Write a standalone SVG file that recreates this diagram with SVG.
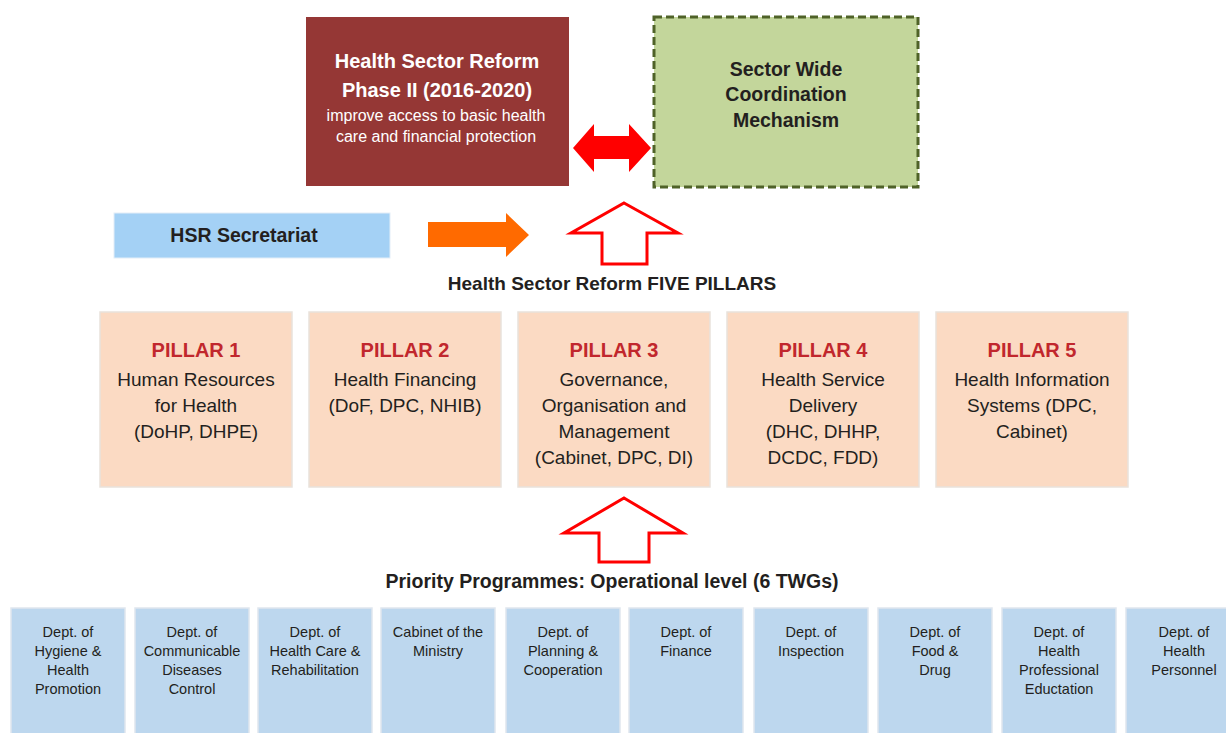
<svg xmlns="http://www.w3.org/2000/svg" width="1226" height="733" viewBox="0 0 1226 733">
<defs>
<style>
text{font-family:"Liberation Sans","Noto Sans",Arial,sans-serif;text-anchor:middle}
.b{font-weight:bold}
.wt{fill:#ffffff}
.dk{fill:#231f20}
.pt{fill:#c1272d;font-weight:bold;font-size:20px}
.pb{fill:#231f20;font-size:19px}
.pill{fill:#fbdac3;stroke:#e9e2dc;stroke-width:1.5}
.dept{fill:#bdd7ee;stroke:#dfe6ee;stroke-width:1.5}
.dt{fill:#231f20;font-size:14.5px}
.up{fill:#ffffff;stroke:#ff0000;stroke-width:3;stroke-linejoin:miter}
</style>
</defs>
<rect width="1226" height="733" fill="#ffffff"/>

<g id="hsr-phase2">
<rect x="306" y="17" width="263" height="169" fill="#953735"/>
<text class="b wt" x="437" y="68" font-size="20">Health Sector Reform</text>
<text class="b wt" x="437" y="97" font-size="20">Phase II (2016-2020)</text>
<text class="wt" x="436" y="121" font-size="16">improve access to basic health</text>
<text class="wt" x="436" y="142" font-size="16">care and financial protection</text>
</g>

<g id="swcm">
<rect x="654" y="17" width="264" height="170" fill="#c3d69b" stroke="#4f6228" stroke-width="3" stroke-dasharray="8,4"/>
<text class="b dk" x="786" y="76" font-size="19.5">Sector Wide</text>
<text class="b dk" x="786" y="101" font-size="19.5">Coordination</text>
<text class="b dk" x="786" y="127" font-size="19.5">Mechanism</text>
</g>

<g id="hsr-secretariat">
<rect x="114" y="213" width="276" height="45" fill="#a4d1f5" stroke="#e3eef8" stroke-width="1"/>
<text class="b dk" x="244" y="242" font-size="19.5">HSR Secretariat</text>
</g>

<g id="connectors">
<polygon points="573,148 594,124 594,136 629,136 629,124 651,148 629,172 629,159 594,159 594,172" fill="#ff0000"/>
<polygon points="428,222 506,222 506,213 529,235 506,257 506,247 428,247" fill="#ff6a00"/>
<polygon class="up" points="624,203 678,233 647,233 647,264 602,264 602,233 571,233"/>
<polygon class="up" points="624,498 683,533 649,533 649,562 599,562 599,533 564,533"/>
</g>

<g id="five-pillars-label">
<text class="b dk" x="612" y="290" font-size="19">Health Sector Reform FIVE PILLARS</text>
</g>

<g id="pillar1">
<rect class="pill" x="100" y="312" width="192" height="175"/>
<text class="pt" x="196" y="357">PILLAR 1</text>
<text class="pb" x="196" y="386">Human Resources</text>
<text class="pb" x="196" y="412">for Health</text>
<text class="pb" x="196" y="438">(DoHP, DHPE)</text>
</g>
<g id="pillar2">
<rect class="pill" x="309" y="312" width="192" height="175"/>
<text class="pt" x="405" y="357">PILLAR 2</text>
<text class="pb" x="405" y="386">Health Financing</text>
<text class="pb" x="405" y="412">(DoF, DPC, NHIB)</text>
</g>
<g id="pillar3">
<rect class="pill" x="518" y="312" width="192" height="175"/>
<text class="pt" x="614" y="357">PILLAR 3</text>
<text class="pb" x="614" y="386">Governance,</text>
<text class="pb" x="614" y="412">Organisation and</text>
<text class="pb" x="614" y="438">Management</text>
<text class="pb" x="614" y="464">(Cabinet, DPC, DI)</text>
</g>
<g id="pillar4">
<rect class="pill" x="727" y="312" width="192" height="175"/>
<text class="pt" x="823" y="357">PILLAR 4</text>
<text class="pb" x="823" y="386">Health Service</text>
<text class="pb" x="823" y="412">Delivery</text>
<text class="pb" x="823" y="438">(DHC, DHHP,</text>
<text class="pb" x="823" y="464">DCDC, FDD)</text>
</g>
<g id="pillar5">
<rect class="pill" x="936" y="312" width="192" height="175"/>
<text class="pt" x="1032" y="357">PILLAR 5</text>
<text class="pb" x="1032" y="386">Health Information</text>
<text class="pb" x="1032" y="412">Systems (DPC,</text>
<text class="pb" x="1032" y="438">Cabinet)</text>
</g>

<g id="priority-label">
<text class="b dk" x="612" y="588" font-size="19.5">Priority Programmes: Operational level (6 TWGs)</text>
</g>

<g id="dept1">
<rect class="dept" x="11" y="608" width="114" height="130"/>
<text class="dt" x="68" y="637">Dept. of</text>
<text class="dt" x="68" y="656">Hygiene &amp;</text>
<text class="dt" x="68" y="675">Health</text>
<text class="dt" x="68" y="694">Promotion</text>
</g>
<g id="dept2">
<rect class="dept" x="135" y="608" width="114" height="130"/>
<text class="dt" x="192" y="637">Dept. of</text>
<text class="dt" x="192" y="656">Communicable</text>
<text class="dt" x="192" y="675">Diseases</text>
<text class="dt" x="192" y="694">Control</text>
</g>
<g id="dept3">
<rect class="dept" x="258" y="608" width="114" height="130"/>
<text class="dt" x="315" y="637">Dept. of</text>
<text class="dt" x="315" y="656">Health Care &amp;</text>
<text class="dt" x="315" y="675">Rehabilitation</text>
</g>
<g id="dept4">
<rect class="dept" x="381" y="608" width="114" height="130"/>
<text class="dt" x="438" y="637">Cabinet of the</text>
<text class="dt" x="438" y="656">Ministry</text>
</g>
<g id="dept5">
<rect class="dept" x="506" y="608" width="114" height="130"/>
<text class="dt" x="563" y="637">Dept. of</text>
<text class="dt" x="563" y="656">Planning &amp;</text>
<text class="dt" x="563" y="675">Cooperation</text>
</g>
<g id="dept6">
<rect class="dept" x="629" y="608" width="114" height="130"/>
<text class="dt" x="686" y="637">Dept. of</text>
<text class="dt" x="686" y="656">Finance</text>
</g>
<g id="dept7">
<rect class="dept" x="754" y="608" width="114" height="130"/>
<text class="dt" x="811" y="637">Dept. of</text>
<text class="dt" x="811" y="656">Inspection</text>
</g>
<g id="dept8">
<rect class="dept" x="878" y="608" width="114" height="130"/>
<text class="dt" x="935" y="637">Dept. of</text>
<text class="dt" x="935" y="656">Food &amp;</text>
<text class="dt" x="935" y="675">Drug</text>
</g>
<g id="dept9">
<rect class="dept" x="1002" y="608" width="114" height="130"/>
<text class="dt" x="1059" y="637">Dept. of</text>
<text class="dt" x="1059" y="656">Health</text>
<text class="dt" x="1059" y="675">Professional</text>
<text class="dt" x="1059" y="694">Eductation</text>
</g>
<g id="dept10">
<rect class="dept" x="1126" y="608" width="114" height="130"/>
<text class="dt" x="1184" y="637">Dept. of</text>
<text class="dt" x="1184" y="656">Health</text>
<text class="dt" x="1184" y="675">Personnel</text>
</g>
</svg>
